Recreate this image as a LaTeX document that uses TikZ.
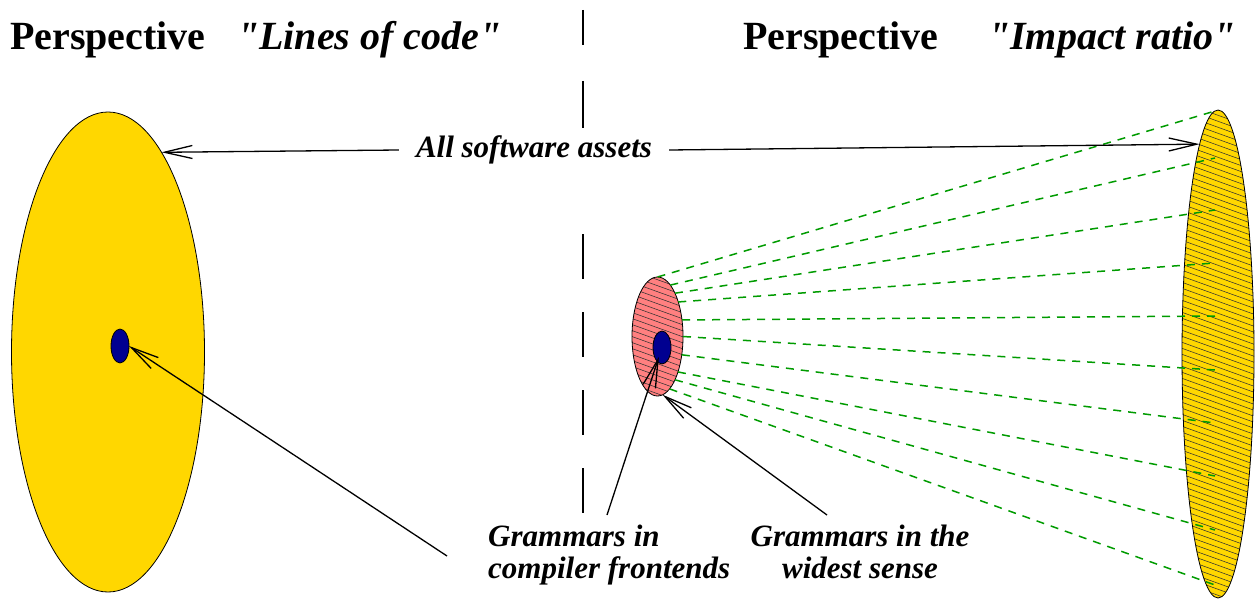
\documentclass[tikz,border=0pt]{standalone}
\usepackage{fontspec}
\setmainfont{Liberation Serif}[Ligatures=TeXOff]
\usetikzlibrary{shapes.geometric,arrows.meta}

\definecolor{assetgold}{RGB}{255,215,0}
\definecolor{frontpink}{RGB}{255,128,128}
\definecolor{gramblue}{RGB}{0,0,144}
\definecolor{conegreen}{RGB}{0,155,0}

\begin{document}
\begin{tikzpicture}[x=1pt,y=-1pt,
  blob/.style={ellipse, line width=0.8pt, inner sep=0pt, outer sep=0pt},
  hatchline/.style={draw=black!80, line width=0.55pt},
  cone/.style={draw=conegreen, line width=1.5pt, dash pattern=on 8pt off 7pt},
  pointer/.style={draw=black, line width=1.3pt, -{Straight Barb[length=28pt,width=13pt,line width=1.3pt]}},
  title/.style={font=\fontsize{40}{46}\selectfont\bfseries, inner sep=0pt, anchor=base west},
  quoted/.style={font=\fontsize{40}{46}\selectfont\bfseries\itshape, inner sep=0pt, anchor=base west},
  caption/.style={font=\fontsize{31}{32}\selectfont\bfseries\itshape, inner sep=0pt},
  divider/.style={draw=black, line width=1.3pt, dash pattern=on 45pt off 33pt}]

\useasboundingbox (0,0) rectangle (1257,599);

% dashed separator between the two perspectives
\draw[divider, dash pattern=on 35pt off 36pt on 47pt off 40pt] (583,10) -- (583,128);
\draw[divider] (583,234) -- (583,513);

% left perspective: all assets, grammars as a small part
\node[blob, draw=black, fill=assetgold, minimum width=193pt, minimum height=480pt] (bigL) at (108,352) {};
\node[blob, draw=black, fill=gramblue, minimum width=18pt, minimum height=34pt] (blueL) at (120,346) {};

% right perspective: large hatched asset ellipse
\node[blob, fill=assetgold, minimum width=72pt, minimum height=488pt] (bigR) at (1218,354) {};
\begin{scope}
  \clip (1218,354) ellipse [x radius=36, y radius=244];
  \foreach \k in {0,...,95} \draw[hatchline] (1170,{50+6*\k}) -- ++(100,36);
\end{scope}
\draw[line width=0.8pt] (bigR.center) ellipse [x radius=36, y radius=244];

% compiler frontends: small hatched ellipse
\node[blob, fill=frontpink, minimum width=51pt, minimum height=119pt] (red) at (657.5,336.5) {};
\begin{scope}
  \clip (657.5,336.5) ellipse [x radius=25.5, y radius=59.5];
  \foreach \k in {0,...,30} \draw[hatchline] (625,{250+6*\k}) -- ++(70,25.2);
\end{scope}
\draw[line width=0.8pt] (red.center) ellipse [x radius=25.5, y radius=59.5];
\node[blob, draw=black, fill=gramblue, minimum width=18pt, minimum height=33pt] (blueR) at (662,347.5) {};

% projection cone
\foreach \a/\y [count=\i] in {90/111, 76/158, 68/210, 59/263, 34/316, 0/370, -37/423, -60/476, -68/530, -77/585} {
  \coordinate (rim\i) at (1215,\y);
  \draw[cone] (red.\a) -- (rim\i);
}

% titles
\node[title] (persL) at (10,50) {Perspective};
\node[quoted] (quoteL) at (237,50) {"Lines of code"};
\node[title] (persR) at (743,50) {Perspective};
\node[quoted] (quoteR) at (988,50) {"Impact ratio"};

% labels and pointers
\node[caption, fill=white, inner xsep=17pt, inner ysep=3pt] (allsw) at (534,150) {All software assets};
\draw[pointer] (allsw.west) -- (bigL.75.5);
\draw[pointer] (allsw.east) -- (bigR.95.5);

\node[caption, align=left, anchor=north west] (gramA) at (488,525) {Grammars in\\compiler frontends};
\node[caption, align=center, anchor=north] (gramB) at (860,525) {Grammars in the\\widest sense};

\coordinate (tailL) at (447,556);
\coordinate (tailM) at (607,515);
\coordinate (tailR) at (827,515);
\draw[pointer] (tailL) -- (blueL.east);
\draw[pointer, shorten >=10pt] (tailM) -- (blueR.center);
\draw[pointer] (tailR) -- (red.-85);
\end{tikzpicture}
\end{document}
